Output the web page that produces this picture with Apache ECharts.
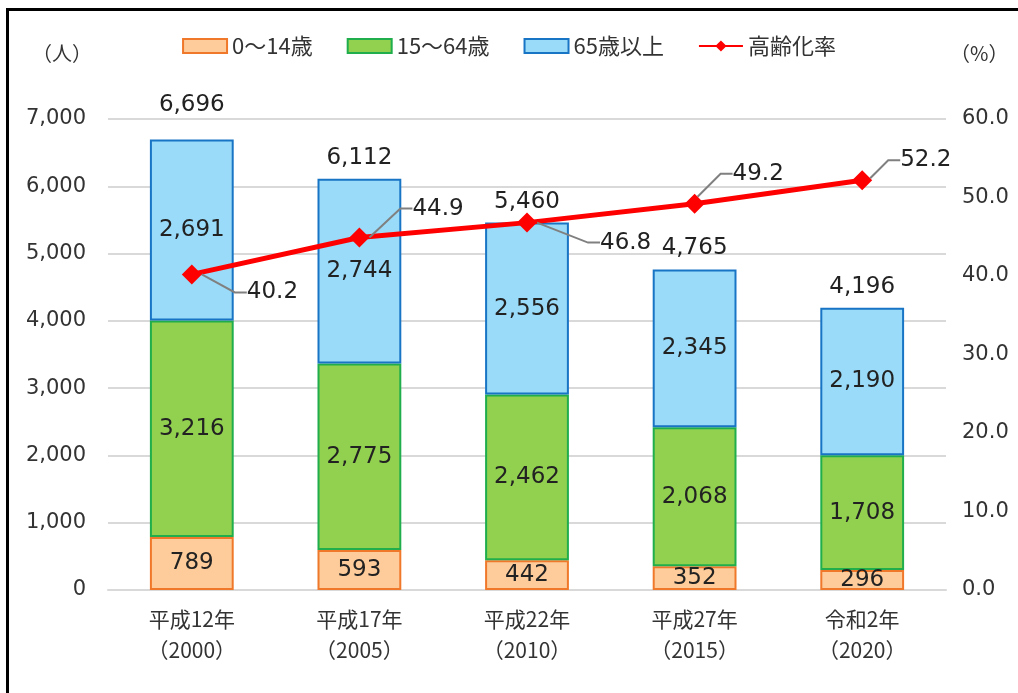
<!DOCTYPE html>
<html>
<head>
<meta charset="utf-8">
<script src="https://cdn.jsdelivr.net/npm/echarts@6/dist/echarts.min.js"></script>
<style>
html, body { margin: 0; padding: 0; background: #fff; }
#frame {
    position: absolute;
    left: 6px;
    top: 8px;
    width: 1012px;
    height: 685px;
    border-top: 3px solid #000;
    border-left: 3px solid #000;
}
#main { position: absolute; left: 0; top: 0; width: 1018px; height: 693px; }
</style>
</head>
<body>
<div id="frame"></div>
<div id="main"></div>
<script>
var categories = ['平成12年\n（2000）', '平成17年\n（2005）', '平成22年\n（2010）', '平成27年\n（2015）', '令和2年\n（2020）'];
var age0to14 = [789, 593, 442, 352, 296];
var age15to64 = [3216, 2775, 2462, 2068, 1708];
var age65over = [2691, 2744, 2556, 2345, 2190];
var totals = [6696, 6112, 5460, 4765, 4196];
var agingRate = [40.2, 44.9, 46.8, 49.2, 52.2];

var font = '"Noto Sans CJK JP", "Noto Sans", sans-serif';
var numFont = '"DejaVu Sans", "Noto Sans CJK JP", sans-serif';
// where each rate label sits relative to its marker
var rateLabelShift = [[40, 18], [38, -29], [58, 20], [23, -30], [23, -20]];

function comma(v) {
    return Number(v).toLocaleString('en-US');
}

var myChart = echarts.init(document.getElementById('main'));

var barLabel = {
    show: true,
    position: 'inside',
    fontFamily: numFont,
    fontSize: 23,
    color: '#222',
    formatter: function (p) { return comma(p.value); }
};

var option = {
    textStyle: { fontFamily: font },
    legend: {
        top: 30,
        left: 'center',
        itemWidth: 44,
        itemHeight: 14,
        itemGap: 34,
        textStyle: { fontFamily: font, fontSize: 22, color: '#333' },
        data: [
            { name: '0～14歳', icon: 'rect' },
            { name: '15～64歳', icon: 'rect' },
            { name: '65歳以上', icon: 'rect' },
            { name: '高齢化率' }
        ]
    },
    grid: {
        left: 108,
        right: 72,
        top: 119,
        bottom: 103
    },
    xAxis: {
        type: 'category',
        data: categories,
        axisLine: { lineStyle: { color: '#d9d9d9', width: 2 } },
        axisTick: { show: false },
        axisLabel: {
            fontFamily: font,
            fontSize: 21,
            color: '#333',
            margin: 14,
            lineHeight: 31
        }
    },
    yAxis: [
        {
            type: 'value',
            min: 0,
            max: 7000,
            interval: 1000,
            name: '（人）',
            nameLocation: 'end',
            nameGap: 56,
            nameTextStyle: { fontFamily: font, fontSize: 20, color: '#333', align: 'right', padding: [0, 16, 0, 0] },
            axisLine: { show: false },
            axisTick: { show: false },
            axisLabel: {
                fontFamily: numFont,
                fontSize: 21,
                color: '#333',
                margin: 22,
                formatter: function (v) { return comma(v); }
            },
            splitLine: { lineStyle: { color: '#d9d9d9', width: 2 } }
        },
        {
            type: 'value',
            min: 0,
            max: 60,
            interval: 10,
            name: '（%）',
            nameLocation: 'end',
            nameGap: 56,
            nameTextStyle: { fontFamily: font, fontSize: 20, color: '#333', align: 'left', padding: [0, 0, 0, 4] },
            axisLine: { show: false },
            axisTick: { show: false },
            splitLine: { show: false },
            axisLabel: {
                fontFamily: numFont,
                fontSize: 21,
                color: '#333',
                margin: 16,
                formatter: function (v) { return v.toFixed(1); }
            }
        }
    ],
    series: [
        {
            name: '0～14歳',
            type: 'bar',
            stack: 'pop',
            barWidth: '50%',
            data: age0to14,
            itemStyle: { color: '#fdcc9a', borderColor: '#f0782a', borderWidth: 2 },
            label: barLabel
        },
        {
            name: '15～64歳',
            type: 'bar',
            stack: 'pop',
            data: age15to64,
            itemStyle: { color: '#92d050', borderColor: '#1fae4b', borderWidth: 2 },
            label: barLabel
        },
        {
            name: '65歳以上',
            type: 'bar',
            stack: 'pop',
            data: age65over,
            itemStyle: { color: '#99dbf8', borderColor: '#1874c4', borderWidth: 2 },
            label: barLabel
        },
        {
            name: '合計',
            type: 'line',
            data: totals.map(function (v, i) {
                return i === 0 ? { value: v, label: { offset: [0, -13] } } : v;
            }),
            symbol: 'circle',
            symbolSize: 1,
            showAllSymbol: true,
            itemStyle: { color: 'rgba(0,0,0,0)' },
            lineStyle: { opacity: 0 },
            silent: true,
            label: {
                show: true,
                position: 'top',
                distance: 9,
                fontFamily: numFont,
                fontSize: 23,
                color: '#222',
                formatter: function (p) { return comma(p.value); }
            },
            z: 1
        },
        {
            name: '高齢化率',
            type: 'line',
            yAxisIndex: 1,
            data: agingRate,
            symbol: 'diamond',
            symbolSize: 20,
            itemStyle: { color: '#ff0000' },
            lineStyle: { color: '#ff0000', width: 5 },
            label: {
                show: true,
                position: 'right',
                distance: 5,
                fontFamily: numFont,
                fontSize: 23,
                color: '#222',
                formatter: function (p) { return p.value.toFixed(1); }
            },
            labelLine: {
                show: true,
                length2: 12,
                lineStyle: { color: '#808080', width: 2 }
            },
            labelLayout: function (p) {
                var s = rateLabelShift[p.dataIndex];
                return { dx: s[0], dy: s[1] };
            },
            z: 5
        }
    ]
};

myChart.setOption(option);
</script>
</body>
</html>
